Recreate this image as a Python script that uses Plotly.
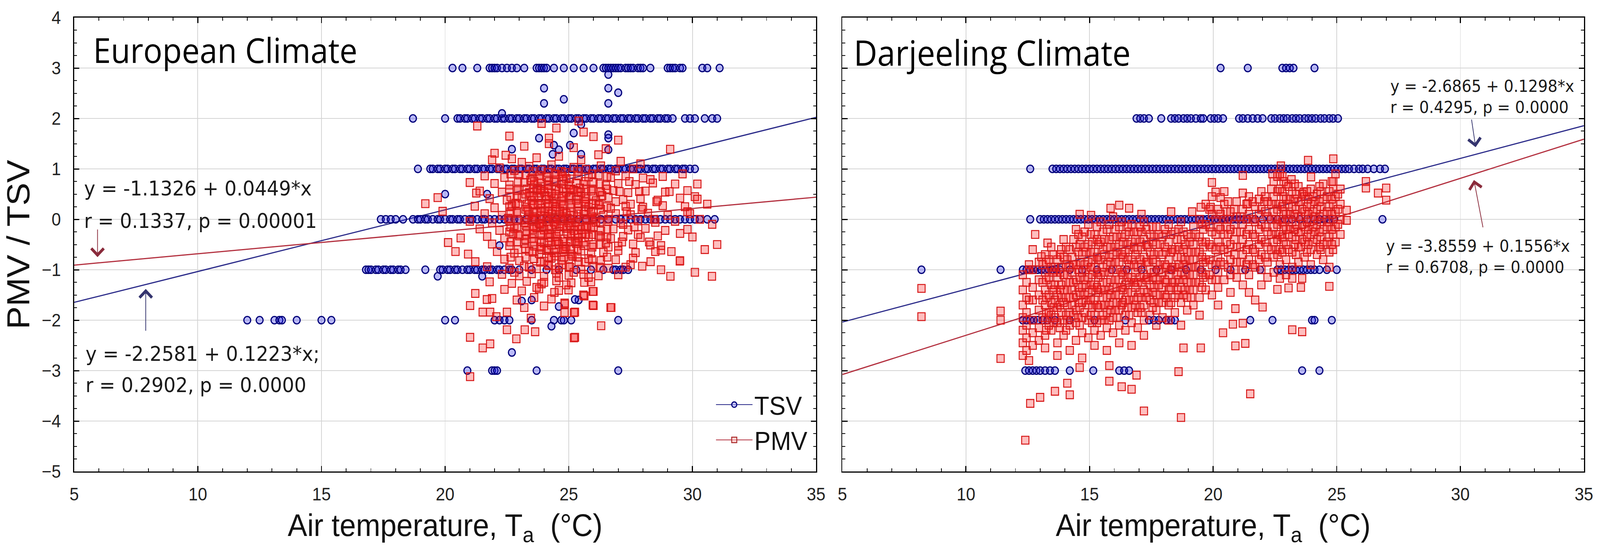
import plotly.graph_objects as go

# ---------------- data ----------------
x_tick_vals = [5, 10, 15, 20, 25, 30, 35]
y_tick_vals = [-5, -4, -3, -2, -1, 0, 1, 2, 3, 4]

# regression lines: (intercept, slope)
eu_tsv_fit = (-2.2581, 0.1223)
eu_pmv_fit = (-1.1326, 0.0449)
dj_tsv_fit = (-2.6865, 0.1298)
dj_pmv_fit = (-3.8559, 0.1556)
fit_x = [5, 35]

eu_tsv_text = ["y = -2.2581 + 0.1223*x;", "r = 0.2902, p = 0.0000"]
eu_pmv_text = ["y = -1.1326 + 0.0449*x", "r = 0.1337, p = 0.00001"]
dj_tsv_text = ["y = -2.6865 + 0.1298*x", "r = 0.4295, p = 0.0000"]
dj_pmv_text = ["y = -3.8559 + 0.1556*x", "r = 0.6708, p = 0.0000"]

# ---- European climate: TSV votes (air temperature per vote level) ----
eu_tsv_p3 = [20.3, 20.7, 21.3, 21.8, 21.9, 22.0, 22.1, 22.3, 22.5, 22.7, 22.9, 23.2, 23.7, 23.8, 23.9,
             24.0, 24.1, 24.4, 24.8, 25.2, 25.6, 26.0, 26.4, 26.5, 26.6, 26.7, 26.8, 26.9, 27.0, 27.1,
             27.3, 27.4, 27.5, 27.6, 27.8, 27.9, 28.0, 28.3, 29.0, 29.1, 29.2, 29.3, 29.5, 29.6,
             30.4, 30.6, 31.1]
eu_tsv_p2 = [18.7, 20.0, 20.5, 20.6, 20.8, 20.9, 21.1, 21.2, 21.4, 21.5, 21.7, 21.8, 22.0, 22.1, 22.3,
             22.4, 22.6, 22.7, 22.9, 23.0, 23.2, 23.3, 23.5, 23.6, 23.8, 23.9, 24.1, 24.2, 24.4, 24.5,
             24.7, 24.8, 25.0, 25.1, 25.3, 25.4, 25.6, 25.7, 25.9, 26.0, 26.2, 26.3, 26.5, 26.6, 26.8,
             26.9, 27.1, 27.2, 27.4, 27.5, 27.7, 27.8, 28.0, 28.1, 28.3, 28.4, 28.6, 28.7, 28.9, 29.0,
             29.2, 29.7, 29.9, 30.1, 30.5, 30.8, 31.0]
eu_tsv_p1 = [18.9, 19.4, 19.5, 19.7, 19.8, 20.0, 20.1, 20.3, 20.4, 20.6, 20.7, 20.9, 21.0, 21.2, 21.3,
             21.5, 21.6, 21.8, 21.9, 22.1, 22.2, 22.4, 22.5, 22.7, 22.8, 23.0, 23.1, 23.3, 23.4, 23.6,
             23.7, 23.9, 24.0, 24.2, 24.3, 24.5, 24.6, 24.8, 24.9, 25.1, 25.2, 25.4, 25.5, 25.7, 25.8,
             26.0, 26.1, 26.3, 26.4, 26.6, 26.7, 26.9, 27.0, 27.2, 27.3, 27.5, 27.6, 27.8, 27.9, 28.1,
             28.2, 28.4, 28.5, 28.7, 28.8, 29.0, 29.1, 29.3, 29.4, 29.6, 29.7, 29.9, 30.1]
eu_tsv_0 = [17.4, 17.6, 17.8, 18.0, 18.3, 18.7, 18.9, 19.0, 19.2, 19.3, 19.5, 19.7, 19.8, 20.0, 20.2,
            20.3, 20.5, 20.6, 20.8, 21.0, 21.1, 21.3, 21.5, 21.6, 21.8, 22.0, 22.2, 22.4, 22.6, 22.8,
            23.0, 23.3, 23.6, 23.9, 24.2, 24.5, 24.8, 25.1, 25.4, 25.7, 26.0, 26.3, 26.6, 26.9, 27.1,
            27.3, 27.5, 27.7, 27.9, 28.1, 28.3, 28.5, 28.7, 28.9, 29.1, 29.3, 29.5, 29.7, 29.9, 30.1,
            30.3, 30.6, 30.9]
eu_tsv_m1 = [16.8, 16.9, 17.0, 17.2, 17.3, 17.5, 17.6, 17.8, 17.9, 18.1, 18.2, 18.4, 19.2, 19.8, 19.9,
             20.1, 20.2, 20.4, 20.5, 20.7, 20.9, 21.0, 21.2, 21.3, 21.5, 21.6, 21.8, 21.9, 22.1, 22.2,
             22.4, 22.6, 22.7, 23.0, 23.5, 24.1, 24.6, 25.3, 25.9, 26.4, 26.8, 26.9, 27.1, 27.2, 27.4]
eu_tsv_m2 = [12.0, 12.5, 13.1, 13.3, 13.4, 14.0, 15.0, 15.4, 20.0, 20.4, 22.0, 22.2, 22.4, 22.6, 23.5,
             24.4, 24.7, 24.8, 25.1, 27.0]
eu_tsv_m3 = [20.9, 21.9, 22.0, 22.1, 23.7, 27.0]
eu_tsv_mean_votes = [(24.0, 2.6), (24.0, 2.3), (24.8, 2.38), (26.6, 2.6), (27.0, 2.51), (26.6, 2.3),
                     (26.6, 2.87), (25.5, 1.88), (25.2, 1.71), (23.8, 1.61), (26.6, 1.68), (26.6, 1.61),
                     (24.4, 1.47), (24.6, 1.38), (25.05, 1.47), (22.7, 1.39), (24.35, 1.29), (25.5, 1.29),
                     (26.6, 1.38), (20.0, 0.5), (21.7, 0.5), (19.7, -1.13), (21.5, -1.13), (22.7, -2.64),
                     (24.3, -2.12), (24.6, -1.73), (25.4, -1.6), (23.5, -1.6), (23.1, -1.62),
                     (22.2, -0.52), (25.25, -1.59), (22.3, 2.1)]

# ---- European climate: PMV (air temperature, PMV) ----
eu_pmv_outer = [(21.3, 1.85), (24.5, 1.81), (24.2, 1.61), (25.6, 1.73), (26.0, 1.64), (27.0, 1.57),
                (29.1, 1.39), (22.0, 1.31), (22.45, 1.27), (23.1, 1.13), (21.0, 0.73), (19.7, 0.43),
                (19.2, 0.31), (21.26, 0.52), (19.9, 0.16), (28.3, 0.79), (29.07, 0.55), (29.5, -0.28),
                (29.5, -0.82), (29.15, -0.64), (28.73, -0.52), (20.12, -0.46), (20.42, -0.64),
                (20.63, -0.37), (20.93, -0.69), (21.01, -1.71), (21.22, -0.84), (21.22, -1.47),
                (21.52, -1.84), (21.82, -1.84), (21.69, -1.59), (22.07, -1.93), (22.5, -1.84),
                (22.5, -2.19), (22.88, -2.37), (23.22, -2.19), (23.64, -2.23), (23.47, -1.96),
                (25.25, -2.34), (26.31, -2.11), (26.69, -1.75), (25.97, -1.7), (25.59, -1.5),
                (25.97, -1.43), (24.83, -1.66), (24.83, -1.85), (25.21, -1.85), (21.01, -3.12),
                (21.01, -2.34), (21.52, -2.55), (21.82, -2.47), (29.49, -0.83), (29.11, -1.13),
                (28.73, -0.61), (28.31, -0.84), (27.97, -0.93), (27.5, -0.9), (28.73, -1.0),
                (30.79, -1.13), (24.42, -1.45), (24.99, -1.4), (25.63, -1.25), (26.0, -1.43),
                (25.63, -1.52), (26.0, -1.71), (24.84, -1.68), (25.25, -1.84), (26.72, -1.75),
                (25.21, -2.35), (21.9, 1.18), (22.7, 1.2), (23.7, 1.22), (24.6, 1.25), (25.5, 1.18),
                (26.2, 1.28), (27.1, 1.15), (27.9, 1.1), (23.2, 1.45), (24.2, 1.5), (25.2, 1.42),
                (26.5, 1.4), (22.6, 1.65), (25.4, 1.95), (23.9, 1.9), (28.8, 0.85), (29.6, 0.9),
                (30.2, 0.7), (30.6, 0.3), (30.8, -0.1), (31.0, -0.5), (30.3, 0.0), (30.5, -0.6),
                (30.1, 0.45), (29.8, 0.15), (30.0, -0.35), (30.1, -1.05)]
eu_pmv_core = [(22.2, 1.02), (22.8, 0.97), (23.4, 1.05), (23.9, 0.98), (24.3, 1.08), (24.7, 0.95),
               (25.2, 1.03), (25.7, 0.99), (26.3, 1.06), (26.9, 0.96), (27.6, 1.0),
               (21.6, 0.86), (22.4, 0.83), (23.0, 0.88), (23.5, 0.82), (23.8, 0.87), (24.1, 0.84),
               (24.5, 0.89), (24.9, 0.81), (25.4, 0.86), (25.8, 0.84), (26.2, 0.88), (26.7, 0.83),
               (27.3, 0.86), (28.0, 0.82),
               (22.0, 0.71), (22.6, 0.68), (23.2, 0.73), (23.6, 0.69), (23.9, 0.72), (24.2, 0.67),
               (24.4, 0.74), (24.7, 0.7), (25.0, 0.68), (25.3, 0.72), (25.6, 0.69), (26.0, 0.73),
               (26.5, 0.67), (27.0, 0.71), (27.7, 0.69), (28.4, 0.72), (29.3, 0.7),
               (21.4, 0.56), (22.3, 0.54), (22.9, 0.57), (23.4, 0.53), (23.7, 0.58), (24.0, 0.55),
               (24.3, 0.52), (24.6, 0.57), (24.9, 0.54), (25.2, 0.58), (25.5, 0.53), (25.9, 0.56),
               (26.3, 0.54), (26.8, 0.57), (27.4, 0.53), (28.1, 0.56), (28.9, 0.54), (29.8, 0.57),
               (21.8, 0.41), (22.5, 0.38), (23.1, 0.42), (23.5, 0.37), (23.8, 0.43), (24.1, 0.39),
               (24.4, 0.41), (24.7, 0.36), (25.0, 0.42), (25.3, 0.38), (25.7, 0.41), (26.1, 0.37),
               (26.6, 0.43), (27.2, 0.39), (27.9, 0.41), (28.6, 0.38), (29.5, 0.42), (30.2, 0.4),
               (21.2, 0.26), (22.0, 0.23), (22.7, 0.27), (23.3, 0.24), (23.6, 0.28), (23.9, 0.22),
               (24.2, 0.26), (24.5, 0.24), (24.8, 0.27), (25.1, 0.23), (25.4, 0.26), (25.8, 0.24),
               (26.2, 0.28), (26.7, 0.22), (27.3, 0.26), (28.0, 0.24), (28.8, 0.27), (29.7, 0.25),
               (21.6, 0.11), (22.3, 0.08), (22.9, 0.12), (23.4, 0.09), (23.7, 0.13), (24.0, 0.07),
               (24.3, 0.11), (24.6, 0.09), (24.9, 0.12), (25.2, 0.08), (25.6, 0.1), (25.9, 0.13),
               (26.4, 0.08), (26.9, 0.11), (27.5, 0.09), (28.2, 0.12), (29.0, 0.08), (29.9, 0.11),
               (21.0, -0.04), (21.9, -0.07), (22.6, -0.03), (23.2, -0.06), (23.5, -0.02), (23.8, -0.08),
               (24.1, -0.04), (24.4, -0.06), (24.7, -0.03), (25.0, -0.07), (25.3, -0.05), (25.7, -0.02),
               (26.1, -0.06), (26.6, -0.04), (27.1, -0.07), (27.8, -0.03), (28.5, -0.06), (29.3, -0.04),
               (21.4, -0.19), (22.2, -0.22), (22.8, -0.18), (23.3, -0.23), (23.7, -0.17), (24.0, -0.21),
               (24.3, -0.19), (24.6, -0.24), (24.9, -0.18), (25.2, -0.22), (25.5, -0.2), (25.9, -0.17),
               (26.3, -0.23), (26.8, -0.19), (27.4, -0.21), (28.1, -0.18), (28.9, -0.22), (29.8, -0.2),
               (21.7, -0.34), (22.4, -0.37), (23.0, -0.33), (23.5, -0.38), (23.9, -0.32), (24.2, -0.36),
               (24.5, -0.34), (24.8, -0.39), (25.1, -0.33), (25.4, -0.37), (25.8, -0.35), (26.2, -0.32),
               (26.7, -0.38), (27.2, -0.34), (27.9, -0.36), (28.6, -0.33),
               (21.9, -0.49), (22.6, -0.52), (23.2, -0.48), (23.6, -0.53), (24.0, -0.47), (24.3, -0.51),
               (24.6, -0.49), (24.9, -0.54), (25.3, -0.48), (25.6, -0.52), (26.0, -0.5), (26.5, -0.47),
               (27.0, -0.53), (27.6, -0.49), (28.3, -0.51),
               (22.1, -0.64), (22.8, -0.67), (23.4, -0.63), (23.8, -0.68), (24.1, -0.62), (24.4, -0.66),
               (24.8, -0.64), (25.1, -0.69), (25.5, -0.63), (25.9, -0.67), (26.4, -0.65), (27.0, -0.62),
               (27.7, -0.66), (28.5, -0.64),
               (22.4, -0.79), (23.0, -0.82), (23.6, -0.78), (24.0, -0.83), (24.3, -0.77), (24.7, -0.81),
               (25.0, -0.79), (25.4, -0.84), (25.8, -0.78), (26.3, -0.82), (26.9, -0.8), (27.6, -0.77),
               (21.7, -0.94), (22.6, -0.97), (23.2, -0.93), (23.7, -0.98), (24.2, -0.92), (24.6, -0.96),
               (25.0, -0.94), (25.5, -0.99), (26.0, -0.93), (26.6, -0.97), (27.3, -0.95),
               (22.3, -1.09), (23.0, -1.12), (23.5, -1.08), (24.0, -1.13), (24.5, -1.07), (25.0, -1.11),
               (25.6, -1.09), (26.2, -1.12), (27.0, -1.1),
               (21.8, -1.24), (22.7, -1.27), (23.3, -1.23), (23.9, -1.28), (24.5, -1.22), (25.1, -1.26),
               (25.9, -1.24), (22.4, -1.39), (23.1, -1.42), (23.8, -1.38), (24.6, -1.41),
               (21.9, -1.57), (22.9, -1.6), (23.6, -1.55), (24.3, -1.58), (23.2, -1.75), (24.0, -1.72)]
eu_pmv_centre = [(23.45, 0.78), (23.75, 0.62), (24.05, 0.47), (24.35, 0.32), (24.65, 0.17), (24.95, 0.02),
                 (25.25, -0.13), (25.55, -0.28), (23.45, 0.47), (23.75, 0.32), (24.05, 0.17), (24.35, 0.02),
                 (24.65, -0.13), (24.95, -0.28), (25.25, -0.43), (23.35, 0.17), (23.65, 0.02), (23.95, -0.13),
                 (24.25, -0.28), (24.55, -0.43), (24.85, -0.58), (25.15, -0.73), (23.55, -0.28), (23.85, -0.43),
                 (24.15, -0.58), (24.45, -0.73), (24.75, 0.62), (25.05, 0.47), (25.35, 0.32), (25.65, 0.17),
                 (24.45, 0.78), (24.15, 0.93), (24.85, 0.93), (25.45, 0.62), (23.25, -0.58), (25.75, -0.13),
                 (26.05, 0.02), (26.35, 0.47), (25.95, 0.32), (22.85, 0.32), (22.55, 0.02), (22.75, -0.28),
                 (23.3, 0.6), (23.6, 0.45), (23.9, 0.3), (24.2, 0.15), (24.5, 0.0), (24.8, -0.15),
                 (25.1, -0.3), (25.4, -0.45), (23.3, 0.3), (23.6, 0.15), (23.9, 0.0), (24.2, -0.15),
                 (24.5, -0.3), (24.8, -0.45), (25.1, -0.6), (23.3, 0.0), (23.6, -0.15), (23.9, -0.3),
                 (24.2, -0.45), (24.5, -0.6), (24.8, -0.75), (23.3, -0.3), (23.6, -0.45), (23.9, -0.6),
                 (24.2, -0.75), (24.2, 0.45), (24.5, 0.3), (24.8, 0.15), (25.1, 0.0), (25.4, -0.15),
                 (25.7, -0.3), (24.5, 0.6), (24.8, 0.45), (25.1, 0.3), (25.4, 0.15), (25.7, 0.0),
                 (26.0, -0.15), (24.8, 0.75), (25.1, 0.6), (25.4, 0.45), (25.7, 0.3), (26.0, 0.15),
                 (23.9, 0.6), (24.2, 0.75), (23.6, 0.75), (26.3, 0.2), (26.0, 0.45), (25.7, 0.6),
                 (22.9, 0.45), (22.9, 0.15), (22.9, -0.15), (22.9, -0.45), (22.6, 0.6), (22.6, 0.25),
                 (22.6, -0.25), (26.3, -0.35), (26.6, 0.0), (26.6, -0.55), (26.9, 0.35), (27.2, -0.1),
                 (27.5, 0.3), (27.8, -0.3)]
eu_pmv_centre2 = [(22.65, 0.9), (22.95, 0.75), (23.25, 0.88), (23.55, 0.95), (23.85, 0.8), (24.15, 0.68),
                  (24.45, 0.9), (24.75, 0.85), (25.05, 0.8), (25.35, 0.95), (25.65, 0.75), (25.95, 0.9),
                  (26.25, 0.7), (26.55, 0.85), (22.65, 0.45), (22.95, 0.6), (23.25, 0.5), (23.55, 0.62),
                  (23.85, 0.52), (24.15, 0.6), (24.45, 0.5), (24.75, 0.45), (25.05, 0.6), (25.35, 0.55),
                  (25.65, 0.45), (25.95, 0.6), (26.25, 0.55), (26.55, 0.6), (22.65, 0.15), (22.95, 0.3),
                  (23.25, 0.2), (23.55, 0.3), (23.85, 0.15), (24.15, 0.3), (24.45, 0.2), (24.75, 0.3),
                  (25.05, 0.15), (25.35, 0.05), (25.65, 0.35), (25.95, 0.05), (26.25, 0.3), (26.55, 0.25),
                  (22.65, -0.15), (22.95, 0.0), (23.25, -0.12), (23.55, 0.05), (23.85, -0.1), (24.15, 0.05),
                  (24.45, -0.1), (24.75, 0.05), (25.05, -0.12), (25.35, -0.3), (25.65, -0.15), (25.95, -0.3),
                  (26.25, -0.05), (26.55, -0.2), (22.65, -0.45), (22.95, -0.3), (23.25, -0.4), (23.55, -0.2),
                  (23.85, -0.55), (24.15, -0.3), (24.45, -0.45), (24.75, -0.6), (25.05, -0.45), (25.35, -0.6),
                  (25.65, -0.45), (25.95, -0.55), (26.25, -0.5), (26.55, -0.35), (22.65, -0.75), (22.95, -0.6),
                  (23.25, -0.75), (23.55, -0.65), (23.85, -0.85), (24.15, -0.9), (24.45, -1.0), (24.75, -0.9),
                  (25.05, -0.95), (25.35, -0.75), (25.65, -0.85), (25.95, -0.8), (26.25, -0.95), (26.55, -0.75),
                  (22.8, -1.05), (23.4, -0.95), (24.0, -1.25), (24.6, -1.15), (25.2, -1.05), (25.8, -1.15),
                  (23.7, -1.35), (24.9, -1.3), (27.05, 0.55), (27.35, 0.15), (27.65, -0.15), (27.95, 0.2),
                  (28.25, -0.45), (28.55, 0.35), (27.15, -0.45), (27.45, 0.75), (27.85, 0.55), (28.45, 0.0)]

# ---- Darjeeling climate: TSV votes ----
dj_tsv_p3 = [20.3, 21.4, 22.8, 22.95, 23.1, 23.25, 24.1]
dj_tsv_p2 = [16.9, 17.05, 17.2, 17.4, 17.9, 18.3, 18.45, 18.6, 18.8, 18.95, 19.1, 19.3, 19.5, 19.6, 19.9,
             20.05, 20.2, 20.4, 21.05, 21.2, 21.4, 21.6, 21.8, 22.0, 22.35, 22.5, 22.7, 22.85, 23.0,
             23.2, 23.35, 23.5, 23.7, 23.85, 24.0, 24.15, 24.35, 24.5, 24.7, 24.85, 25.05]
dj_tsv_p1 = [12.6, 13.5, 13.65, 13.8, 13.95, 14.1, 14.25, 14.4, 14.55, 14.7, 14.85, 15.0, 15.15, 15.3,
             15.45, 15.6, 15.75, 15.9, 16.05, 16.2, 16.35, 16.5, 16.65, 16.8, 16.95, 17.1, 17.25, 17.4,
             17.55, 17.7, 17.85, 18.0, 18.15, 18.3, 18.45, 18.6, 18.75, 18.9, 19.05, 19.2, 19.35, 19.5,
             19.65, 19.8, 19.95, 20.1, 20.25, 20.4, 20.55, 20.7, 20.85, 21.0, 21.15, 21.3, 21.45, 21.6,
             21.75, 21.9, 22.05, 22.2, 22.35, 22.5, 22.65, 22.8, 22.95, 23.1, 23.25, 23.4, 23.55, 23.7,
             23.85, 24.0, 24.15, 24.3, 24.45, 24.6, 24.75, 24.9, 25.05, 25.2, 25.35, 25.5, 25.7, 25.9,
             26.05, 26.25, 26.5, 26.75, 26.95]
dj_tsv_0 = [12.6, 13.0, 13.15, 13.3, 13.45, 13.6, 13.75, 13.9, 14.05, 14.2, 14.35, 14.5, 14.65, 14.8,
            14.95, 15.1, 15.25, 15.4, 15.55, 15.7, 15.85, 16.0, 16.15, 16.3, 16.45, 16.6, 16.75, 16.9,
            17.05, 17.2, 17.35, 17.5, 17.65, 17.8, 17.95, 18.1, 18.25, 18.4, 18.55, 18.7, 18.85, 19.0,
            19.15, 19.3, 19.45, 19.6, 19.75, 19.9, 20.05, 20.2, 20.35, 20.5, 20.65, 20.8, 20.95, 21.1,
            21.25, 21.4, 21.7, 22.0, 22.3, 22.6, 22.9, 23.2, 23.5, 23.8, 24.1, 24.3, 24.5, 24.7, 24.9,
            26.85]
dj_tsv_m1 = [8.2, 11.4, 12.3, 12.45, 12.6, 12.75, 12.9, 13.05, 13.2, 13.35, 13.5, 13.65, 13.8, 14.2,
             14.7, 15.3, 15.9, 16.5, 17.1, 17.7, 18.3, 18.9, 19.5, 20.1, 20.7, 21.3, 21.9, 22.6, 22.75,
             22.9, 23.05, 23.2, 23.35, 23.5, 23.65, 23.8, 23.95, 24.1, 24.3, 24.6, 25.0]
dj_tsv_m2 = [12.3, 12.45, 12.6, 12.75, 12.9, 13.1, 13.3, 13.6, 14.2, 15.2, 16.45, 17.4, 17.6, 17.8,
             18.1, 18.3, 18.45, 21.5, 22.4, 24.0, 24.1, 24.8]
dj_tsv_m3 = [12.4, 12.55, 12.7, 12.85, 13.0, 13.2, 13.4, 13.6, 14.2, 15.15, 16.2, 16.4, 16.6, 23.6, 24.3]

# ---- Darjeeling climate: PMV ----
dj_pmv_outer = [(8.2, -1.37), (8.2, -1.93), (11.4, -1.82), (11.4, -2.0), (11.4, -2.76), (12.4, -4.38),
                (12.6, -3.65), (13.0, -3.53), (13.6, -3.41), (14.2, -3.48), (14.1, -3.25), (15.8, -3.21),
                (16.3, -3.32), (16.7, -3.37), (17.2, -3.8), (18.7, -3.93), (21.5, -3.46), (16.9, -3.09),
                (18.6, -3.02), (14.6, -2.94), (15.8, -2.9), (18.8, -2.55), (19.5, -2.55), (20.9, -2.51),
                (21.3, -2.46), (20.4, -2.25), (23.2, -2.19), (23.6, -2.23), (22.0, -1.74), (21.7, -1.6),
                (20.9, -1.77), (20.8, -2.08), (21.2, -2.06), (22.6, -1.39), (23.05, -1.36), (23.55, -1.35),
                (22.7, -1.17), (23.2, -1.17), (23.6, -1.17), (24.7, -1.33), (12.8, -0.3), (13.3, -0.47),
                (13.05, -0.74), (14.6, 0.1), (15.06, 0.08), (15.85, 0.22), (16.2, 0.28), (16.6, 0.22),
                (17.1, 0.1), (18.3, 0.15), (19.15, 0.15), (19.5, 0.24), (19.95, 0.73), (20.1, 0.54),
                (20.3, 0.43), (19.9, 0.24), (21.2, 0.87), (21.2, 0.52), (21.4, 0.31), (22.07, 0.35),
                (22.4, 0.9), (22.74, 1.06), (23.17, 0.79), (23.66, 0.54), (23.84, 1.17), (23.96, 0.84),
                (24.86, 1.2), (24.86, 0.75), (26.18, 0.75), (26.18, 0.62), (26.67, 0.52), (27.0, 0.62),
                (27.0, 0.38), (25.4, 0.18), (25.4, -0.02)]
# cloud listed by temperature column: (air temperature, [PMV values at it])
dj_pmv_columns = [
    (12.3, [-1.1, -1.4, -1.7, -1.95, -2.2, -2.45, -2.7]),
    (12.45, [-1.25, -1.55, -1.85, -2.1, -2.35, -2.6]),
    (12.55, [-0.9, -2.8, -1.0, -1.6]),
    (12.7, [-0.6, -1.0, -1.35, -1.6, -2.0, -2.25, -2.5]),
    (12.95, [-0.85, -1.2, -1.5, -1.8, -2.15, -2.4]),
    (13.1, [-0.9, -1.25, -1.6, -1.95]),
    (13.2, [-0.7, -1.05, -1.4, -1.7, -2.0, -2.3, -2.55]),
    (13.35, [-0.8, -1.15, -1.5, -1.85, -2.1]),
    (13.45, [-0.55, -0.95, -1.3, -1.65, -1.9, -2.2]),
    (13.6, [-0.95, -1.3, -1.6, -1.95]),
    (13.7, [-0.8, -1.15, -1.5, -1.75, -2.05, -2.45, -2.7]),
    (13.85, [-0.6, -0.95, -1.3, -1.55, -1.85]),
    (13.95, [-0.4, -0.75, -1.1, -1.4, -1.65, -2.0, -2.3]),
    (14.1, [-0.8, -1.1, -1.4, -1.7, -2.0]),
    (14.2, [-0.6, -0.95, -1.25, -1.55, -1.85, -2.1, -2.6]),
    (14.3, [-0.75, -1.05, -1.4, -1.7]),
    (14.45, [-0.2, -0.55, -0.9, -1.2, -1.5, -1.8, -2.05, -2.4]),
    (14.6, [-0.5, -0.85, -1.15, -1.45, -1.75, -2.1]),
    (14.7, [-0.35, -0.7, -1.05, -1.35, -1.65, -1.95, -2.25, -2.75]),
    (14.85, [-0.65, -1.0, -1.3, -1.6]),
    (14.95, [-0.1, -0.5, -0.85, -1.15, -1.45, -1.7, -2.0, -2.35]),
    (15.1, [-0.45, -0.8, -1.1, -1.4, -1.75, -2.05]),
    (15.2, [-0.3, -0.65, -0.95, -1.3, -1.6, -1.9, -2.2, -2.5]),
    (15.35, [-0.5, -0.8, -1.15, -1.45, -1.75]),
    (15.45, [-0.05, -0.45, -0.8, -1.1, -1.4, -1.7, -2.0, -2.3]),
    (15.6, [-0.4, -0.7, -1.05, -1.4, -1.7, -2.0]),
    (15.7, [-0.2, -0.55, -0.9, -1.25, -1.55, -1.85, -2.15, -2.6]),
    (15.85, [-0.55, -0.85, -1.2, -1.5, -1.8]),
    (15.95, [0.05, -0.35, -0.7, -1.0, -1.35, -1.65, -1.95, -2.25]),
    (16.1, [-0.35, -0.65, -1.0, -1.35, -1.65, -1.95]),
    (16.2, [-0.15, -0.5, -0.85, -1.2, -1.5, -1.8, -2.1, -2.45]),
    (16.35, [-0.45, -0.75, -1.1, -1.4, -1.65]),
    (16.45, [-0.3, -0.65, -1.0, -1.3, -1.6, -1.9, -2.2]),
    (16.6, [-0.25, -0.6, -0.9, -1.25, -1.6, -1.9]),
    (16.7, [-0.1, -0.45, -0.8, -1.15, -1.45, -1.75, -2.05, -2.5]),
    (16.85, [-0.4, -0.7, -1.05, -1.35, -1.7]),
    (16.95, [-0.25, -0.6, -0.95, -1.25, -1.55, -1.85, -2.15]),
    (17.1, [-0.25, -0.55, -0.9, -1.25, -1.55, -1.85]),
    (17.2, [-0.05, -0.4, -0.75, -1.1, -1.4, -1.7, -2.0, -2.3]),
    (17.35, [-0.55, -0.85, -1.15, -1.45]),
    (17.45, [-0.3, -0.65, -1.0, -1.3, -1.6, -1.9]),
    (17.6, [-0.35, -0.7, -1.05, -1.35, -1.65]),
    (17.7, [-0.15, -0.5, -0.85, -1.2, -1.5, -1.8, -2.1]),
    (17.85, [-0.5, -0.9, -1.2, -1.5]),
    (17.95, [-0.35, -0.7, -1.05, -1.35, -1.65, -1.95]),
    (18.1, [-0.3, -0.65, -0.95, -1.25, -1.55]),
    (18.2, [-0.1, -0.45, -0.8, -1.1, -1.4, -1.7, -2.0]),
    (18.35, [-0.6, -0.95, -1.25]),
    (18.45, [-0.25, -0.6, -0.95, -1.25, -1.55, -1.85]),
    (18.6, [-0.2, -0.55, -0.9, -1.2, -1.5]),
    (18.7, [-0.05, -0.4, -0.75, -1.05, -1.35, -1.65, -2.1]),
    (18.85, [-0.5, -0.8, -1.1, -1.4]),
    (18.95, [-0.3, -0.65, -0.95, -1.25, -1.55, -1.8]),
    (19.1, [-0.35, -0.65, -0.95, -1.25, -1.55]),
    (19.2, [-0.15, -0.5, -0.8, -1.1, -1.4, -1.7]),
    (19.45, [0.0, -0.35, -0.65, -0.95, -1.25, -1.55, -1.9]),
    (19.6, [-0.2, -0.55, -0.85, -1.15]),
    (19.7, [0.3, -0.1, -0.45, -0.8, -1.1, -1.4]),
    (19.95, [0.45, 0.1, -0.25, -0.55, -0.9, -1.2, -1.5]),
    (20.1, [0.0, -0.3, -0.6, -0.9, -1.2]),
    (20.2, [0.2, -0.15, -0.45, -0.75, -1.05, -1.35, -1.7]),
    (20.45, [0.55, 0.3, 0.0, -0.3, -0.6, -0.9, -1.2]),
    (20.55, [0.15, -0.15, -0.45]),
    (20.6, [0.35, 0.0, -0.3, -0.65, -0.95]),
    (20.7, [0.15, -0.2, -0.5, -0.8, -1.1, -1.45]),
    (20.95, [0.35, 0.05, -0.25, -0.55, -0.85, -1.15]),
    (21.1, [0.05, -0.25, -0.55, -0.85]),
    (21.2, [0.2, -0.1, -0.4, -0.7, -1.0, -1.3]),
    (21.45, [0.45, 0.1, -0.2, -0.5, -0.8, -1.1, -1.45]),
    (21.6, [0.35, 0.0, -0.3, -0.6, -0.9]),
    (21.7, [0.25, -0.05, -0.35, -0.65, -0.95]),
    (21.95, [0.55, 0.2, -0.1, -0.4, -0.7, -1.0, -1.3]),
    (22.1, [0.45, 0.15, -0.15, -0.45, -0.75]),
    (22.2, [0.35, 0.05, -0.25, -0.55, -0.85, -1.15]),
    (22.45, [0.75, 0.45, 0.15, -0.15, -0.45, -0.75, -1.05]),
    (22.55, [0.3, 0.0, -0.3, -0.6]),
    (22.6, [0.85, 0.55, 0.2, -0.1, -0.4, -0.7]),
    (22.7, [0.9, 0.6, 0.3, 0.0, -0.3, -0.6, -0.9]),
    (22.85, [0.75, 0.45, 0.15, -0.15, -0.45]),
    (22.95, [0.7, 0.4, 0.1, -0.2, -0.5, -0.8, -1.1]),
    (23.1, [0.4, 0.1, -0.2]),
    (23.2, [0.55, 0.25, -0.05, -0.35, -0.65, -0.95]),
    (23.35, [0.5, 0.2, -0.1, -0.4, -0.7]),
    (23.45, [0.65, 0.35, 0.05, -0.25, -0.55, -0.85]),
    (23.6, [0.5, 0.2, -0.1, -0.4]),
    (23.7, [0.45, 0.15, -0.15, -0.45, -0.75]),
    (23.85, [0.4, 0.1, -0.2, -0.5]),
    (23.95, [0.6, 0.3, 0.0, -0.3, -0.6, -0.9]),
    (24.1, [0.35, 0.05, -0.25]),
    (24.2, [0.5, 0.2, -0.1, -0.4, -0.7]),
    (24.35, [0.55, 0.25, -0.05, -0.35, -0.6]),
    (24.45, [0.7, 0.4, 0.1, -0.2, -0.5, -0.8]),
    (24.7, [0.55, 0.25, -0.05, -0.35, -0.65, -0.95]),
    (24.85, [0.6, 0.3, 0.0, -0.3, -0.6]),
    (24.95, [0.9, 0.45, 0.15, -0.15, -0.45]),
    (25.15, [0.6, 0.3, 0.0, -0.3]),
]
dj_pmv_columns2 = [
    (13.25, [-0.85, -1.2, -1.55, -1.85, -2.2]),
    (13.55, [-0.7, -1.05, -1.4, -1.75, -2.05]),
    (13.8, [-0.7, -1.05, -1.4, -1.7, -2.15]),
    (14.05, [-0.55, -0.9, -1.25, -1.55, -1.9, -2.2]),
    (14.35, [-0.4, -0.9, -1.25, -1.55, -1.9]),
    (14.55, [-0.3, -0.65, -1.0, -1.35, -1.65, -1.95]),
    (14.8, [-0.25, -0.55, -0.9, -1.2, -1.5, -1.85]),
    (15.05, [-0.3, -0.65, -0.95, -1.3, -1.6, -1.9]),
    (15.3, [-0.15, -0.4, -0.75, -1.05, -1.35, -1.7, -2.05]),
    (15.55, [-0.25, -0.6, -0.95, -1.25, -1.55, -1.9]),
    (15.8, [-0.1, -0.4, -0.75, -1.05, -1.4, -1.7, -2.0]),
    (16.05, [-0.2, -0.55, -0.85, -1.2, -1.5, -1.8]),
    (16.3, [-0.05, -0.35, -0.7, -1.05, -1.35, -1.7]),
    (16.55, [-0.15, -0.5, -0.8, -1.15, -1.45, -1.75]),
    (16.8, [-0.25, -0.55, -0.9, -1.25, -1.6]),
    (17.05, [-0.15, -0.45, -0.8, -1.15, -1.45, -1.75]),
    (17.3, [-0.2, -0.5, -0.85, -1.2, -1.55]),
    (17.55, [-0.15, -0.45, -0.8, -1.15, -1.45, -1.75]),
    (17.8, [-0.3, -0.65, -1.0, -1.3, -1.65]),
    (18.05, [-0.2, -0.55, -0.9, -1.2, -1.5]),
    (18.3, [-0.3, -0.65, -1.0, -1.35, -1.65]),
    (18.55, [-0.4, -0.75, -1.1, -1.4]),
    (18.8, [-0.25, -0.6, -0.9, -1.2, -1.5]),
    (19.05, [-0.45, -0.8, -1.1, -1.4]),
    (19.3, [-0.3, -0.65, -0.95, -1.25]),
    (19.55, [-0.1, -0.45, -0.75, -1.05, -1.35]),
    (19.85, [0.2, -0.15, -0.5, -0.8, -1.1]),
    (20.3, [0.1, -0.2, -0.55, -0.85]),
    (20.85, [0.2, -0.1, -0.4, -0.7, -1.0]),
    (21.35, [0.3, 0.0, -0.3, -0.6, -0.9]),
    (21.85, [0.4, 0.1, -0.2, -0.5, -0.8]),
    (22.35, [0.6, 0.3, 0.0, -0.3, -0.6]),
    (22.8, [0.85, 0.55, 0.25, -0.05, -0.35, -0.65]),
    (23.05, [0.65, 0.3, 0.0, -0.3, -0.6]),
    (23.3, [0.7, 0.4, 0.1, -0.2, -0.5]),
    (23.55, [0.35, 0.05, -0.25, -0.55]),
    (23.8, [0.55, 0.25, -0.05, -0.35, -0.65]),
    (24.05, [0.45, 0.15, -0.15, -0.45]),
    (24.3, [0.65, 0.35, 0.05, -0.25, -0.55]),
    (24.6, [0.45, 0.15, -0.15, -0.45]),
    (24.8, [0.75, 0.4, 0.1, -0.2, -0.5]),
    (25.05, [0.5, 0.2, -0.1]),
]

# ---------------- build ----------------
def rows_to_xy(rows):
    xs, ys = [], []
    for level, temps in rows:
        xs += list(temps)
        ys += [level] * len(temps)
    return xs, ys


def pairs_to_xy(*lists):
    xs, ys = [], []
    for lst in lists:
        for t, v in lst:
            xs.append(t)
            ys.append(v)
    return xs, ys


def columns_to_xy(*col_lists):
    xs, ys = [], []
    for cols in col_lists:
        for t, vals in cols:
            xs += [t] * len(vals)
            ys += list(vals)
    return xs, ys


eu_tsv_x, eu_tsv_y = rows_to_xy([(3, eu_tsv_p3), (2, eu_tsv_p2), (1, eu_tsv_p1), (0, eu_tsv_0),
                                  (-1, eu_tsv_m1), (-2, eu_tsv_m2), (-3, eu_tsv_m3)])
_mx, _my = pairs_to_xy(eu_tsv_mean_votes)
eu_tsv_x += _mx
eu_tsv_y += _my
eu_pmv_x, eu_pmv_y = pairs_to_xy(eu_pmv_outer, eu_pmv_core, eu_pmv_centre, eu_pmv_centre2)

dj_tsv_x, dj_tsv_y = rows_to_xy([(3, dj_tsv_p3), (2, dj_tsv_p2), (1, dj_tsv_p1), (0, dj_tsv_0),
                                  (-1, dj_tsv_m1), (-2, dj_tsv_m2), (-3, dj_tsv_m3)])
dj_pmv_x, dj_pmv_y = pairs_to_xy(dj_pmv_outer)
_cx, _cy = columns_to_xy(dj_pmv_columns, dj_pmv_columns2)
dj_pmv_x += _cx
dj_pmv_y += _cy

# ---------------- styles ----------------
BLUE_LINE = "#2c2c8a"
RED_LINE = "#b3303f"
TSV_MARKER = dict(symbol="circle", size=19, color="rgba(30,30,235,0.3)",
                  line=dict(color="#00007a", width=3.2))
PMV_MARKER = dict(symbol="square", size=20, color="rgba(255,20,20,0.28)",
                  line=dict(color="rgb(215,25,25)", width=2.6))
SANS = "Liberation Sans, Arial, sans-serif"
EQ_FONT = "DejaVu Sans, Liberation Sans, sans-serif"

fig = go.Figure()

panels = [
    ("x", "y", eu_tsv_fit, eu_pmv_fit, eu_tsv_x, eu_tsv_y, eu_pmv_x, eu_pmv_y),
    ("x2", "y2", dj_tsv_fit, dj_pmv_fit, dj_tsv_x, dj_tsv_y, dj_pmv_x, dj_pmv_y),
]
for xa, ya, tfit, pfit, tx, ty, px, py in panels:
    fig.add_trace(go.Scatter(x=fit_x, y=[tfit[0] + tfit[1] * v for v in fit_x], mode="lines",
                             line=dict(color=BLUE_LINE, width=3), xaxis=xa, yaxis=ya,
                             showlegend=False, hoverinfo="skip"))
    fig.add_trace(go.Scatter(x=fit_x, y=[pfit[0] + pfit[1] * v for v in fit_x], mode="lines",
                             line=dict(color=RED_LINE, width=3), xaxis=xa, yaxis=ya,
                             showlegend=False, hoverinfo="skip"))
    fig.add_trace(go.Scatter(x=tx, y=ty, mode="markers", marker=TSV_MARKER, name="TSV",
                             xaxis=xa, yaxis=ya, showlegend=False))
    fig.add_trace(go.Scatter(x=px, y=py, mode="markers", marker=PMV_MARKER, name="PMV",
                             xaxis=xa, yaxis=ya, showlegend=False))

# legend entries (line + marker, as in the original)
fig.add_trace(go.Scatter(x=[None], y=[None], mode="lines+markers", name="TSV",
                         line=dict(color=BLUE_LINE, width=2),
                         marker=dict(symbol="circle", size=14, color="rgba(170,170,255,0.6)",
                                     line=dict(color="#00007a", width=3))))
fig.add_trace(go.Scatter(x=[None], y=[None], mode="lines+markers", name="PMV",
                         line=dict(color=RED_LINE, width=2),
                         marker=dict(symbol="square", size=14, color="rgba(255,190,190,0.6)",
                                     line=dict(color="rgb(170,40,40)", width=2.5))))

W, H = 4380, 1412
L, R, T, B = 203, 44, 45, 206
pw = W - L - R

axis_common = dict(
    showline=True, linewidth=3, linecolor="black", mirror="ticks",
    ticks="inside", ticklen=14, tickwidth=2.5, tickcolor="black",
    showgrid=True, gridcolor="#d4d4d4", gridwidth=2, zeroline=False, automargin=False,
    tickfont=dict(family=SANS, size=46, color="#222"),
)
xaxis_common = dict(axis_common, range=[5, 35], tickvals=x_tick_vals,
                    minor=dict(dtick=1, tick0=5, ticks="inside", ticklen=8, tickwidth=2,
                               tickcolor="black", showgrid=False),
                    ticklabelstandoff=16,
                    title=dict(text="Air temperature, T<sub>a</sub>\u00a0\u00a0(°C)",
                               font=dict(family=SANS, size=80, color="#111"), standoff=26))
yaxis_common = dict(axis_common, range=[-5, 4], tickvals=y_tick_vals,
                    minor=dict(dtick=0.25, tick0=0, ticks="inside", ticklen=8, tickwidth=2,
                               tickcolor="black", showgrid=False))

fig.update_layout(
    width=W, height=H, autosize=False,
    margin=dict(l=L, r=R, t=T, b=B),
    paper_bgcolor="white", plot_bgcolor="white",
    xaxis=dict(xaxis_common, domain=[0, (2234 - L) / pw], anchor="y"),
    xaxis2=dict(xaxis_common, domain=[(2306 - L) / pw, 1], anchor="y2"),
    yaxis=dict(yaxis_common, domain=[0, 1], anchor="x", ticklabelstandoff=24,
               title=dict(text="PMV / TSV", font=dict(family=SANS, size=88, color="#111"),
                          standoff=34)),
    yaxis2=dict(yaxis_common, domain=[0, 1], anchor="x2", matches="y", showticklabels=False),
    legend=dict(x=(1955 - L) / pw, y=(1206 - 985) / 1161, xanchor="left", yanchor="top",
                font=dict(family=SANS, size=67, color="#111"), bgcolor="rgba(0,0,0,0)",
                itemwidth=100, tracegroupgap=0),
    showlegend=True,
)

annotations = []
annotations.append(dict(text="European Climate", xref="x domain", yref="y domain", x=0.0246, y=0.9294,
                        xanchor="left", yanchor="middle", showarrow=False,
                        font=dict(family="Open Sans, Noto Sans, sans-serif", size=87, color="black")))
annotations.append(dict(text="Darjeeling Climate", xref="x2 domain", yref="y2 domain", x=0.0143, y=0.9238,
                        xanchor="left", yanchor="middle", showarrow=False,
                        font=dict(family="Open Sans, Noto Sans, sans-serif", size=89, color="black")))

eq_specs = [
    ("x", "y", 5.37, [0.61, -0.03], eu_pmv_text, 52),
    ("x", "y", 5.43, [-2.67, -3.29], eu_tsv_text, 52),
    ("x2", "y2", 27.14, [2.64, 2.22], dj_tsv_text, 42),
    ("x2", "y2", 26.96, [-0.53, -0.95], dj_pmv_text, 42),
]
for xr, yr, xv, yvs, lines, fs in eq_specs:
    for yv, line in zip(yvs, lines):
        annotations.append(dict(text=line, xref=xr, yref=yr, x=xv, y=yv, xanchor="left",
                                yanchor="middle", showarrow=False,
                                font=dict(family=EQ_FONT, size=fs, color="#1a1a1a")))

arrow_specs = [
    ("x", "y", 5.945, -0.75, 5.945, -0.19, "#8a2b3b"),
    ("x", "y", 7.895, -1.38, 7.895, -2.22, "#34346e"),
    ("x2", "y2", 30.62, 1.43, 30.45, 1.99, "#34346e"),
    ("x2", "y2", 30.55, 0.78, 30.92, -0.17, "#8a2b3b"),
]
for xr, yr, hx, hy, tx_, ty_, col in arrow_specs:
    annotations.append(dict(text="", xref=xr, yref=yr, x=hx, y=hy, axref=xr, ayref=yr, ax=tx_, ay=ty_,
                            showarrow=True, arrowhead=4, arrowsize=3.3, arrowwidth=2, arrowcolor=col))

fig.update_layout(annotations=annotations)

# map the 4380x1412 design onto the whole browser viewport
fit_script = (
    "document.documentElement.style.margin='0';document.body.style.margin='0';"
    "document.body.style.overflow='hidden';"
    "var gd=document.getElementById('{plot_id}');"
    "var sx=window.innerWidth/%d, sy=window.innerHeight/%d;"
    "gd.style.transformOrigin='0 0';gd.style.transform='scale('+sx+','+sy+')';" % (W, H)
)
fig.write_html("out.html", post_script=fit_script, config={"displayModeBar": False})
